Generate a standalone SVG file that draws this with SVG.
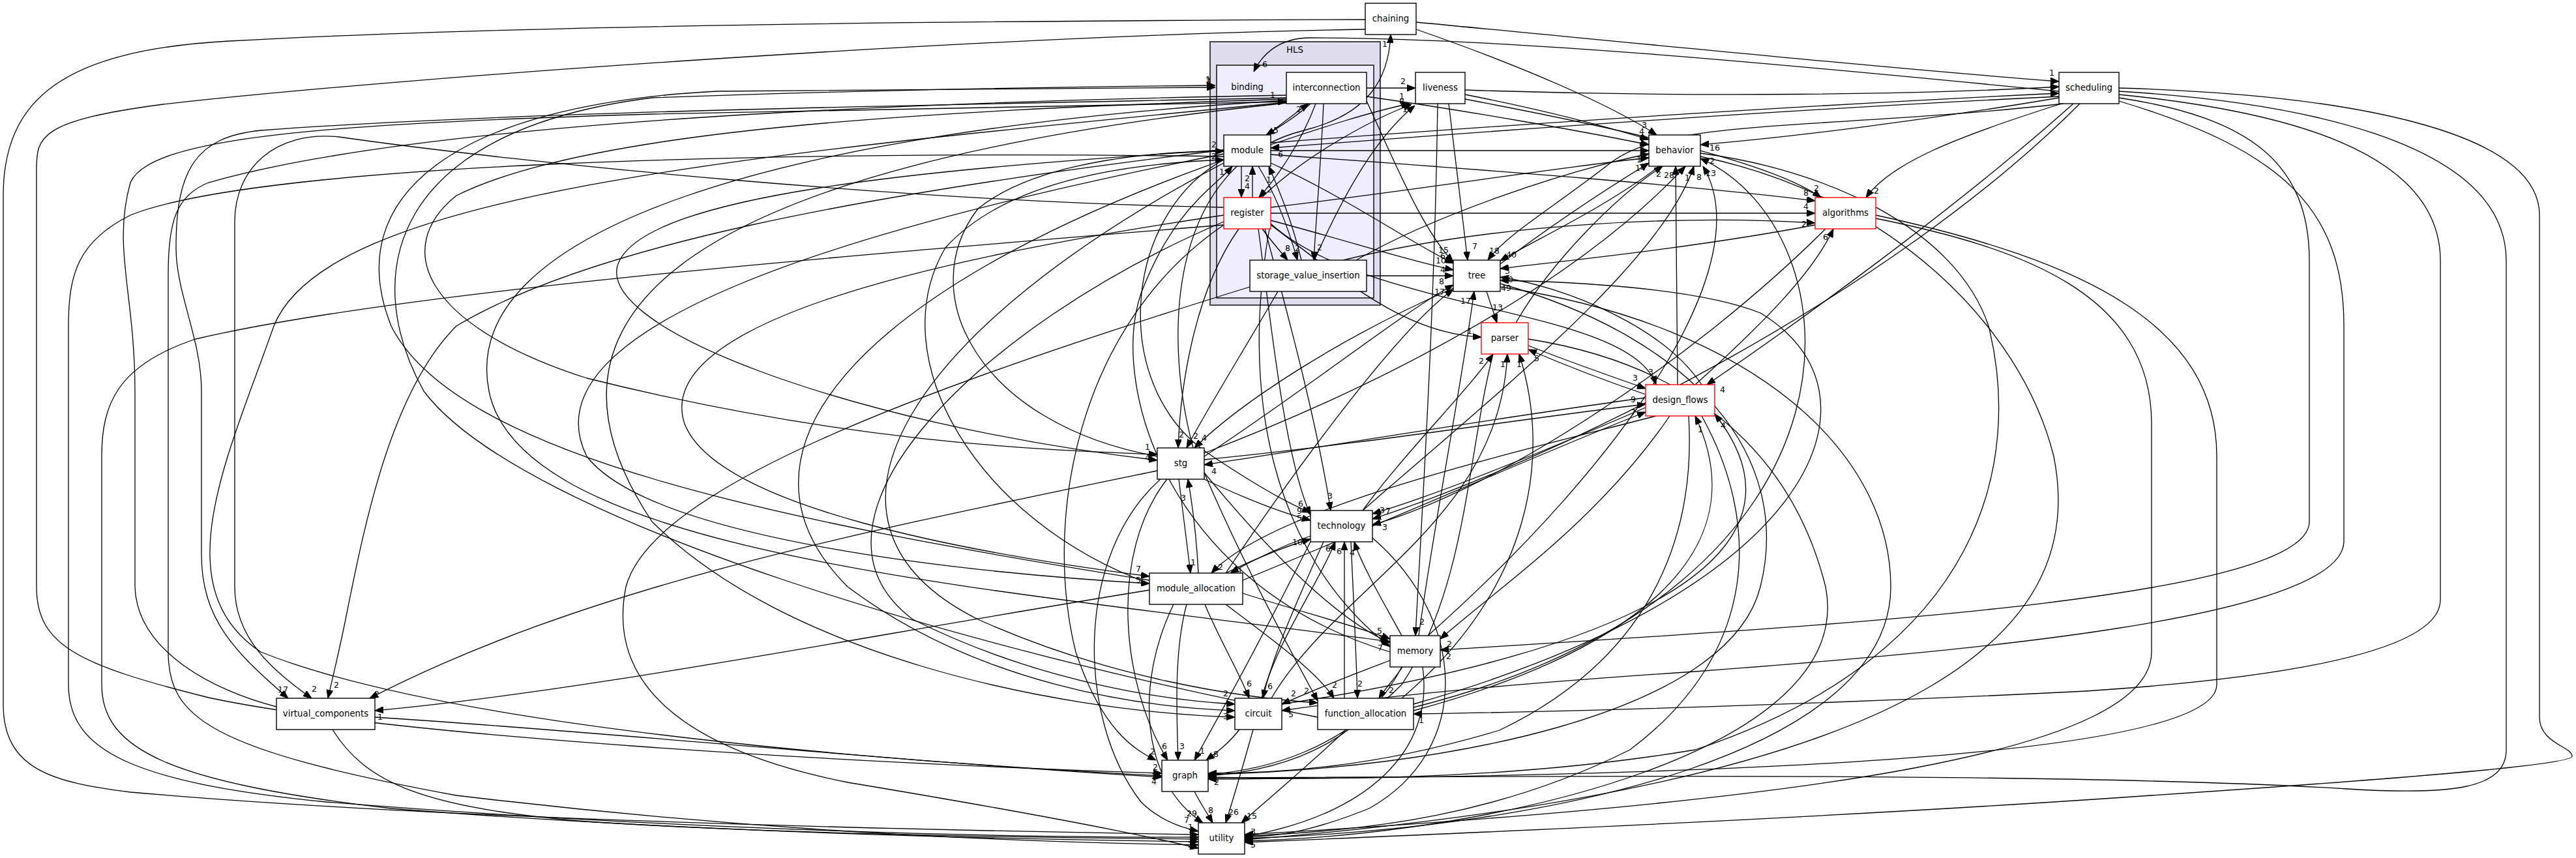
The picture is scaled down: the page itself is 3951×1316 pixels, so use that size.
<svg xmlns="http://www.w3.org/2000/svg" width="3951" height="1316" viewBox="0 0 3951 1316">
<style>
.bg{fill:#fff}
.n rect{fill:#fff;stroke:#000;stroke-width:1.4}
.n.r rect{stroke:#f00}
.n text,.cl{font-family:"DejaVu Sans",sans-serif;font-size:13.3px;text-anchor:middle;fill:#000}
.e path{fill:none;stroke:#000;stroke-width:1.3;marker-end:url(#a)}
.e text{font-family:"DejaVu Sans",sans-serif;font-size:12.5px;text-anchor:middle;fill:#000}
</style>
<defs>
<marker id="a" markerWidth="13" markerHeight="10" refX="13" refY="5" orient="auto" markerUnits="userSpaceOnUse"><path d="M0,0 L13,5 L0,10 z" fill="#000" stroke="#000" stroke-width="1"/></marker>
</defs>
<rect class="bg" x="0" y="0" width="3951" height="1316"/>
<g id="cluster-HLS">
<rect x="1856" y="64" width="261" height="404" fill="#ddddee" stroke="#444" stroke-width="2"/>
<text class="cl" x="1986" y="81">HLS</text>
</g>
<g id="cluster-binding">
<rect x="1866" y="100" width="241" height="357" fill="#eeeeff" stroke="#444" stroke-width="2"/>
<text class="cl" x="1913" y="138">binding</text>
</g>
<g id="edges" class="e">
<!-- internal HLS -->
<path d="M2096,135 L2171,135"/><text x="2152" y="129">2</text>
<path d="M2010,159 C1990,178 1962,195 1942,207"/><text x="1957" y="204">5</text>
<path d="M1944,207 C1965,190 1985,175 2007,159"/><text x="1992" y="172">2</text>
<path d="M2018,159 C1995,220 1960,270 1931,303"/><text x="1947" y="295">2</text>
<path d="M2030,159 C2026,250 2019,330 2015,399"/><text x="2024" y="384">2</text>
<path d="M1904,255 L1904,303"/><text x="1913" y="290">4</text>
<path d="M1921,303 L1921,255"/><text x="1913" y="278">2</text>
<path d="M1996,399 C1982,340 1962,292 1946,255"/><text x="1946" y="280">1</text>
<path d="M1930,255 C1958,300 1976,350 1990,399"/><text x="1990" y="385">2</text>
<path d="M1936,351 C1950,370 1963,385 1975,399"/><text x="1975" y="385">8</text>
<path d="M1949,222 C2030,195 2100,172 2162,159"/><text x="2150" y="152">1</text>
<path d="M1935,303 C2000,240 2100,185 2165,160"/><text x="2150" y="160">8</text>
<path d="M2016,399 C2060,300 2110,210 2170,162"/><text x="2155" y="172">1</text>
<!-- top right -->
<path d="M2172,34 C2550,70 2900,105 3158,125"/><text x="3147" y="116">1</text>
<path d="M2172,45 C2330,100 2470,160 2541,207"/><text x="2522" y="196">3</text>
<path d="M3158,140 C2700,95 2300,58 2010,58 C1960,58 1935,85 1923,110"/><text x="1940" y="103">6</text>
<path d="M2247,138 C2600,150 2950,145 3158,133"/><text x="3147" y="129">1</text>
<path d="M1949,219 C2400,185 2800,160 3158,143"/><text x="3147" y="140">2</text>
<path d="M3158,148 C2800,165 2400,192 1949,227"/><text x="1964" y="241">6</text>
<path d="M2247,145 C2350,165 2450,190 2529,214"/><text x="2518" y="206">4</text>
<path d="M2096,148 C2250,170 2420,200 2529,222"/><text x="2518" y="216">6</text>
<path d="M1949,231 L2529,231"/><text x="2518" y="228">9</text>
<path d="M2080,399 C2200,330 2400,262 2529,236"/><text x="2518" y="238">3</text>
<path d="M1949,318 C2150,295 2400,255 2529,242"/><text x="2514" y="249">1</text>
<path d="M1949,250 C2060,300 2160,370 2229,404"/><text x="2214" y="388">15</text>
<path d="M1949,237 C2300,262 2600,285 2784,308"/><text x="2770" y="300">8</text>
<path d="M1949,327 L2784,327"/><text x="2770" y="321">4</text>
<path d="M1949,338 C2070,370 2160,400 2229,414"/><text x="2210" y="404">10</text>
<path d="M2096,423 L2229,423"/><text x="2213" y="418">4</text>
<path d="M2096,155 C2140,250 2180,350 2229,402"/><text x="2213" y="397">6</text>
<path d="M2060,399 C2300,340 2600,330 2784,342"/><text x="2767" y="348">2</text>
<path d="M2222,159 L2251,399"/><text x="2262" y="382">7</text>
<path d="M2205,159 C2200,500 2180,800 2171,975"/><text x="2181" y="958">2</text>
<path d="M2247,152 C2500,200 2720,250 2793,303"/><text x="2786" y="293">2</text>
<path d="M3158,150 C2950,185 2750,210 2608,222"/><text x="2630" y="231">16</text>
<path d="M3162,159 C3000,210 2900,250 2862,303"/><text x="2878" y="297">2</text>
<path d="M3165,159 C2800,200 2560,180 2470,250 C2380,320 2310,360 2282,399"/><text x="2292" y="389">18</text>
<path d="M2545,255 C2460,320 2350,370 2301,400"/><text x="2318" y="395">40</text>
<path d="M2301,405 C2400,330 2480,280 2529,250"/><text x="2516" y="262">14</text>
<path d="M2573,590 L2570,255"/><text x="2560" y="273">28</text>
<path d="M2325,495 C2380,400 2480,300 2550,255"/><text x="2544" y="271">2</text>
<path d="M1847,695 C2200,560 2450,400 2585,255"/><text x="2588" y="277">1</text>
<path d="M2090,783 C2300,600 2550,400 2598,255"/><text x="2606" y="276">8</text>
<path d="M2190,975 C2500,700 2700,400 2612,255"/><text x="2624" y="270">13</text>
<path d="M2168,1085 C2900,900 2850,350 2608,243"/><text x="2626" y="251">2</text>
<path d="M2784,345 C2600,380 2400,400 2301,412"/><text x="2312" y="420">3</text>
<path d="M2610,590 C2550,500 2400,440 2301,425"/><text x="2313" y="433">10</text>
<path d="M2168,1080 C2800,900 2900,600 2700,480 C2600,440 2400,432 2301,430"/><text x="2310" y="446">49</text>
<path d="M2176,975 C2200,800 2240,600 2261,447"/><text x="2248" y="466">17</text>
<path d="M1847,700 C2000,600 2150,480 2229,437"/><text x="2211" y="436">8</text>
<path d="M1880,879 C2000,700 2150,500 2229,444"/><text x="2208" y="452">17</text>
<!-- parser & design_flows -->
<path d="M2280,447 L2296,495"/><text x="2297" y="476">13</text>
<path d="M1949,345 C2050,420 2150,512 2272,517"/><text x="2254" y="512">1</text>
<path d="M2090,783 C2150,700 2250,600 2290,543"/><text x="2272" y="558">2</text>
<path d="M1950,1071 C2050,900 2300,800 2312,543"/><text x="2305" y="563">1</text>
<path d="M2150,1071 C2350,900 2380,700 2330,543"/><text x="2330" y="563">1</text>
<path d="M2524,605 C2450,580 2400,560 2344,536"/><text x="2357" y="554">5</text>
<path d="M2344,530 C2420,560 2480,580 2524,596"/><text x="2508" y="584">3</text>
<path d="M1949,343 C2100,480 2500,470 2540,590"/><text x="2532" y="575">3</text>
<path d="M1847,705 C2100,680 2350,640 2524,620"/><text x="2505" y="617">9</text>
<path d="M1906,890 C2150,790 2400,680 2524,632"/><text x="2505" y="637">7</text>
<path d="M3180,159 C3000,320 2750,500 2618,590"/><text x="2642" y="602">4</text>
<path d="M2168,1090 C2500,1000 2700,850 2600,638"/><text x="2608" y="663">1</text>
<path d="M1966,1080 C2500,1000 2800,850 2630,635"/><text x="2643" y="657">4</text>
<path d="M2600,590 C2700,500 2780,420 2812,351"/><text x="2800" y="368">6</text>
<path d="M2561,638 C2450,800 2300,900 2209,980"/><text x="2223" y="992">2</text>
<path d="M2524,610 C2300,640 2000,690 1847,713"/><text x="1862" y="727">4</text>
<!-- stg / technology / module_allocation -->
<path d="M1900,351 C1830,450 1810,600 1807,687"/><text x="1812" y="671">2</text>
<path d="M1960,447 C1900,550 1850,630 1820,687"/><text x="1834" y="673">2</text>
<path d="M2229,442 C2050,520 1900,620 1832,687"/><text x="1847" y="676">4</text>
<path d="M1808,735 L1826,879"/><text x="1830" y="867">1</text>
<path d="M1838,879 C1835,820 1830,780 1822,735"/><text x="1815" y="768">3</text>
<path d="M1847,735 C1900,760 1960,785 2010,798"/><text x="1993" y="788">9</text>
<path d="M1880,879 C1930,855 1970,838 2010,827"/><text x="1990" y="836">10</text>
<path d="M2010,822 C1960,840 1920,860 1887,879"/><text x="1902" y="880">1</text>
<path d="M2540,638 C2300,700 1950,780 1858,879"/><text x="1872" y="874">2</text>
<path d="M1930,351 C1950,500 1970,700 2010,790"/><text x="1993" y="799">5</text>
<path d="M1877,245 C1720,330 1700,600 1860,700 C1920,740 1970,770 2010,786"/><text x="1995" y="777">6</text>
<path d="M1940,351 C1980,500 2020,650 2041,783"/><text x="2040" y="765">3</text>
<path d="M2524,625 C2350,700 2200,760 2105,788"/><text x="2129" y="788">7</text>
<path d="M3190,159 C2900,450 2400,700 2105,796"/><text x="2120" y="787">3</text>
<path d="M2800,351 C2600,550 2300,750 2105,805"/><text x="2124" y="813">3</text>
<path d="M1935,1071 C1960,980 2020,900 2048,831"/><text x="2037" y="846">6</text>
<path d="M2062,1071 L2062,831"/><text x="2054" y="850">6</text>
<path d="M2150,975 C2120,920 2090,870 2077,831"/><text x="2074" y="852">4</text>
<path d="M1848,927 C1870,980 1900,1030 1916,1071"/><text x="1916" y="1053">6</text>
<path d="M2030,831 C1990,920 1950,1010 1937,1071"/><text x="1948" y="1057">6</text>
<path d="M1880,927 C1950,980 2020,1030 2046,1071"/><text x="2047" y="1055">2</text>
<path d="M2072,831 C2076,920 2080,1000 2082,1071"/><text x="2086" y="1053">2</text>
<path d="M2151,1023 C2140,1040 2125,1055 2115,1071"/><text x="2134" y="1063">2</text>
<path d="M1847,725 C1900,850 1980,1000 2021,1075"/><text x="2004" y="1064">2</text>
<path d="M2132,1013 C2060,1040 2000,1065 1966,1080"/><text x="1984" y="1068">2</text>
<path d="M1906,910 C2000,940 2080,960 2132,980"/><text x="2116" y="972">5</text>
<path d="M1847,725 C1950,850 2050,950 2132,986"/><text x="2118" y="984">1</text>
<path d="M1949,340 C1900,600 1950,850 2132,992"/><text x="2117" y="998">7</text>
<!-- bottom -->
<path d="M1901,1119 C1885,1140 1865,1155 1850,1166"/><text x="1865" y="1161">8</text>
<path d="M1922,1119 C1905,1180 1890,1230 1880,1262"/><text x="1892" y="1250">26</text>
<path d="M2065,1119 C2000,1180 1940,1230 1904,1262"/><text x="1920" y="1256">15</text>
<path d="M1832,1214 C1840,1230 1850,1245 1860,1262"/><text x="1857" y="1247">8</text>
<path d="M2010,831 C1950,950 1880,1080 1832,1166"/><text x="1844" y="1156">1</text>
<path d="M1820,927 C1800,1000 1805,1100 1807,1166"/><text x="1813" y="1149">3</text>
<path d="M1790,735 C1700,850 1720,1050 1791,1166"/><text x="1786" y="1149">6</text>
<path d="M1877,345 C1650,500 1600,800 1650,1000 C1690,1120 1740,1150 1773,1166"/><text x="1768" y="1157">2</text>
<path d="M1780,735 C1650,850 1650,1100 1750,1230 C1780,1260 1815,1270 1838,1275"/><text x="1820" y="1262">7</text>
<path d="M1800,927 C1740,1050 1750,1200 1845,1262"/><text x="1828" y="1252">29</text>
<path d="M2182,1023 C2200,1150 2100,1250 1909,1283"/><text x="1922" y="1280">3</text>
<path d="M2150,1023 C2100,1120 2000,1180 1853,1190"/><text x="1866" y="1204">2</text>
<!-- stg/module incoming -->
<path d="M1775,700 C1500,650 1400,450 1500,320 C1600,240 1800,232 1877,232"/><text x="1862" y="226">2</text>
<path d="M1763,895 C1500,800 1350,550 1450,380 C1550,270 1750,250 1877,245"/><text x="1862" y="244">2</text>
<path d="M2132,1000 C1800,900 1700,600 1750,450 C1800,320 1860,290 1890,255"/><text x="1874" y="268">1</text>
<path d="M1830,687 C1780,500 1800,250 2000,200 C2100,175 2130,120 2133,53"/><text x="2124" y="72">1</text>
<!-- far left -->
<path d="M2094,30 C1500,32 800,38 351,63 C100,77 5,150 5,300 L5,1080 C5,1180 80,1200 200,1215 C600,1250 1200,1270 1838,1280"/><text x="1826" y="1273">1</text>
<path d="M2094,45 C1500,55 600,120 250,160 C60,185 56,210 56,260 L56,900 C56,990 120,1020 320,1070 C600,1130 1300,1170 1782,1186"/><text x="1772" y="1181">2</text>
<path d="M1973,150 C1500,160 800,170 400,200 C300,210 270,260 270,380 C270,450 309,520 309,600 L309,850 C309,950 360,1000 442,1071"/><text x="434" y="1062">17</text>
<path d="M1877,318 C1400,310 800,250 520,210 C420,200 360,260 360,340 L360,900 C360,980 420,1030 478,1071"/><text x="482" y="1061">2</text>
<path d="M1775,722 C1300,820 900,900 567,1071"/><text x="578" y="1069">2</text>
<path d="M1877,230 C1300,300 900,380 700,500 C600,600 560,800 530,950 C520,1000 510,1040 503,1071"/><text x="516" y="1055">2</text>
<path d="M1763,905 C1300,980 900,1060 575,1090"/><text x="583" y="1104">1</text>
<path d="M424,1084 C330,1060 210,1000 207,900 L207,600 C207,450 172,380 200,280 C230,210 500,190 1000,175 C1500,165 1800,160 1973,156"/><text x="1952" y="150">1</text>
<path d="M575,1100 C900,1120 1400,1170 1782,1192"/><text x="1770" y="1203">4</text>
<path d="M510,1119 C560,1200 650,1240 900,1260 C1200,1280 1600,1285 1838,1287"/>
<path d="M1763,890 C1200,800 700,700 600,500 C520,300 700,160 1100,140 C1500,135 1800,134 1864,134"/><text x="1853" y="128">3</text>
<path d="M2021,1100 C1500,1000 800,800 650,600 C550,420 600,200 1000,150 C1400,135 1750,132 1864,131"/><text x="1853" y="126">1</text>
<path d="M1973,152 C1400,170 900,200 700,300 C600,380 650,500 900,580 C1300,680 1600,690 1775,697"/><text x="1760" y="690">1</text>
<path d="M1877,230 C1400,260 1000,300 950,400 C900,500 1300,650 1775,706"/><text x="1760" y="706">4</text>
<path d="M1877,330 C1400,400 1000,500 1050,650 C1100,780 1500,850 1763,884"/><text x="1746" y="877">7</text>
<path d="M1877,236 C1300,350 800,500 900,700 C1000,830 1500,880 1763,895"/><text x="1746" y="894">5</text>
<path d="M1973,154 C1200,200 700,350 750,600 C800,850 1500,900 2132,984"/>
<path d="M1877,340 C1500,500 1200,800 1400,950 C1600,1050 1800,1075 1894,1080"/><text x="1880" y="1068">2</text>
<path d="M1877,245 C1300,450 1100,700 1300,900 C1500,1050 1750,1085 1894,1090"/><text x="1880" y="1103">3</text>
<path d="M1973,158 C1000,260 800,500 1000,800 C1200,1000 1600,1090 1894,1100"/>
<path d="M1877,250 C1400,500 1200,800 1500,950 C1700,1040 1900,1070 2021,1078"/>
<path d="M1973,157 C1100,240 500,300 420,500 C350,700 250,900 400,1000 C700,1120 1400,1170 1782,1190"/><text x="1770" y="1195">2</text>
<path d="M1877,240 C1200,230 400,250 200,330 C120,370 105,420 105,500 L105,1050 C105,1150 200,1200 500,1230 C1000,1270 1500,1285 1838,1284"/>
<path d="M1877,345 C1200,400 600,450 300,520 C180,560 156,620 156,700 L156,1050 C156,1150 260,1200 600,1240 C1100,1280 1600,1288 1838,1291"/><text x="1826" y="1300">2</text>
<path d="M1973,146 C1200,160 600,200 320,280 C270,300 258,340 258,420 L258,1000 C258,1100 320,1150 700,1220 C1200,1280 1600,1292 1838,1296"/>
<path d="M1917,440 C1400,600 1000,750 960,900 C930,1050 1050,1150 1300,1200 C1600,1250 1750,1280 1838,1301"/>
<!-- far right -->
<path d="M3250,135 C3600,145 3895,200 3895,330 L3895,1100 C3895,1140 3945,1145 3945,1160 C3945,1175 3600,1200 3300,1220 C2800,1255 2200,1280 1909,1292"/><text x="1922" y="1300">5</text>
<path d="M3250,140 C3500,155 3844,210 3844,400 L3844,1150 C3844,1210 3760,1220 3600,1210 C3200,1185 2400,1190 1853,1193"/>
<path d="M3250,145 C3500,170 3743,230 3743,400 L3743,920 C3743,1000 3500,1040 3200,1060 C2800,1080 2400,1092 2168,1095"/><text x="2180" y="1109">1</text>
<path d="M3250,150 C3450,180 3542,250 3542,400 L3542,800 C3542,920 2800,960 2209,997"/><text x="2222" y="1011">2</text>
<path d="M3250,155 C3500,230 3595,320 3595,500 L3595,830 C3595,950 3000,1000 2600,1030 C2300,1050 2100,1070 1966,1090"/><text x="1980" y="1100">5</text>
<path d="M2877,335 C3100,380 3300,450 3300,650 L3300,1000 C3300,1150 2800,1230 1909,1280"/>
<path d="M2877,330 C3200,400 3400,500 3400,700 L3400,1050 C3400,1150 2800,1190 1853,1195"/>
<path d="M2608,240 C2900,300 3100,500 3150,700 C3200,950 3000,1200 1909,1288"/>
<path d="M2608,235 C2800,260 3000,350 3050,500 C3100,700 3050,1000 2600,1150 C2300,1200 2000,1195 1853,1192"/>
<path d="M2301,440 C2700,500 2900,700 2900,900 C2900,1150 2400,1270 1909,1286"/>
<path d="M2301,435 C2600,520 2750,700 2700,900 C2650,1100 2200,1180 1853,1188"/>
<path d="M2610,638 C2700,800 2700,1000 2500,1150 C2300,1250 2100,1275 1909,1282"/>
<path d="M2590,638 C2600,800 2550,1000 2300,1120 C2100,1180 1950,1186 1853,1186"/>
<path d="M2344,520 C2600,560 2750,700 2800,900 C2850,1150 2300,1280 1909,1290"/>
<path d="M2105,825 C2250,950 2260,1150 2100,1240 C2000,1280 1950,1283 1909,1284"/>
<path d="M2290,543 C2250,700 2250,900 2150,1050 C2050,1150 1950,1180 1853,1188"/>
</g>
<g id="node-chaining" class="n"><rect x="2094" y="5" width="78" height="48"/><text x="2133" y="33">chaining</text></g>
<g id="node-interconnection" class="n"><rect x="1973" y="111" width="123" height="48"/><text x="2034.5" y="139">interconnection</text></g>
<g id="node-liveness" class="n"><rect x="2171" y="111" width="76" height="48"/><text x="2209" y="139">liveness</text></g>
<g id="node-scheduling" class="n"><rect x="3158" y="111" width="92" height="48"/><text x="3204" y="139">scheduling</text></g>
<g id="node-module" class="n"><rect x="1877" y="207" width="72" height="48"/><text x="1913" y="235">module</text></g>
<g id="node-behavior" class="n"><rect x="2529" y="207" width="79" height="48"/><text x="2568.5" y="235">behavior</text></g>
<g id="node-register" class="n r"><rect x="1877" y="303" width="72" height="48"/><text x="1913" y="331">register</text></g>
<g id="node-algorithms" class="n r"><rect x="2784" y="303" width="93" height="48"/><text x="2830.5" y="331">algorithms</text></g>
<g id="node-storage_value_insertion" class="n"><rect x="1917" y="399" width="179" height="48"/><text x="2006.5" y="427">storage_value_insertion</text></g>
<g id="node-tree" class="n"><rect x="2229" y="399" width="72" height="48"/><text x="2265" y="427">tree</text></g>
<g id="node-parser" class="n r"><rect x="2272" y="495" width="72" height="48"/><text x="2308" y="523">parser</text></g>
<g id="node-design_flows" class="n r"><rect x="2524" y="590" width="106" height="48"/><text x="2577" y="618">design_flows</text></g>
<g id="node-stg" class="n"><rect x="1775" y="687" width="72" height="48"/><text x="1811" y="715">stg</text></g>
<g id="node-technology" class="n"><rect x="2010" y="783" width="95" height="48"/><text x="2057.5" y="811">technology</text></g>
<g id="node-module_allocation" class="n"><rect x="1763" y="879" width="143" height="48"/><text x="1834.5" y="907">module_allocation</text></g>
<g id="node-memory" class="n"><rect x="2132" y="975" width="77" height="48"/><text x="2170.5" y="1003">memory</text></g>
<g id="node-circuit" class="n"><rect x="1894" y="1071" width="72" height="48"/><text x="1930" y="1099">circuit</text></g>
<g id="node-function_allocation" class="n"><rect x="2021" y="1071" width="147" height="48"/><text x="2094.5" y="1099">function_allocation</text></g>
<g id="node-virtual_components" class="n"><rect x="424" y="1071" width="151" height="48"/><text x="499.5" y="1099">virtual_components</text></g>
<g id="node-graph" class="n"><rect x="1782" y="1166" width="71" height="48"/><text x="1817.5" y="1194">graph</text></g>
<g id="node-utility" class="n"><rect x="1838" y="1262" width="71" height="48"/><text x="1873.5" y="1290">utility</text></g>
</svg>
